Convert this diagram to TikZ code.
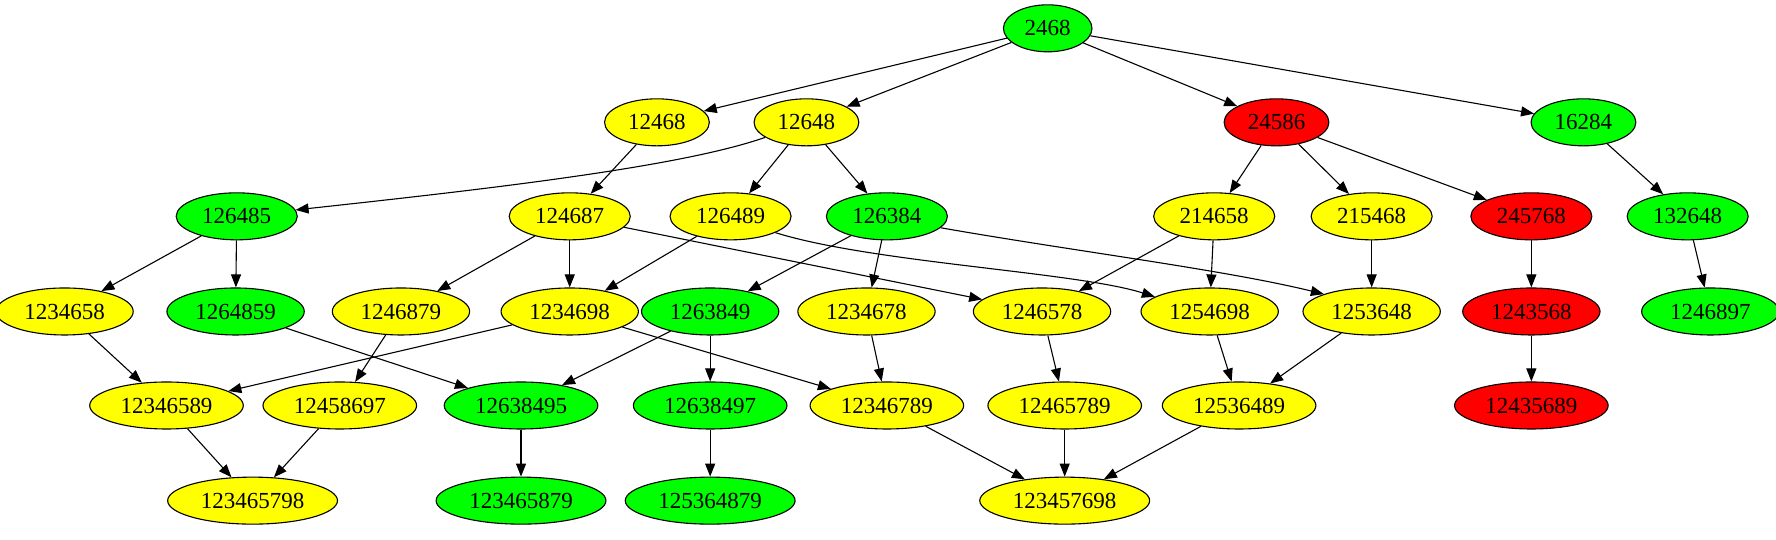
\documentclass[tikz,border=0pt]{standalone}
\usepackage{fontspec}
\setmainfont{Liberation Serif}
\usetikzlibrary{shapes.geometric,arrows.meta}
\definecolor{gvgreen}{HTML}{00FF00}
\definecolor{gvyellow}{HTML}{FFFF00}
\definecolor{gvred}{HTML}{FF0000}
\tikzset{
  nd/.style={ellipse,draw,line width=1.1pt,minimum height=47pt,inner xsep=8.3pt,inner ysep=0pt,font=\fontsize{23}{27}\selectfont},
  gn/.style={nd,fill=gvgreen},
  yn/.style={nd,fill=gvyellow},
  rn/.style={nd,fill=gvred},
  ed/.style={line width=1.1pt,-{Triangle[length=13pt,width=10pt]}}
}
\begin{document}
\begin{tikzpicture}[x=1.1327pt,y=-1.1327pt]
\useasboundingbox (0,0) rectangle (1568,476);
\node[gn] (n2468) at (925,25) {2468};
\node[yn] (n12468) at (580,108) {12468};
\node[yn] (n12648) at (712,108) {12648};
\node[rn] (n24586) at (1127,108) {24586};
\node[gn] (n16284) at (1398,108) {16284};
\node[gn] (n126485) at (209,191) {126485};
\node[yn] (n124687) at (503,191) {124687};
\node[yn] (n126489) at (645,191) {126489};
\node[gn] (n126384) at (783,191) {126384};
\node[yn] (n214658) at (1072,191) {214658};
\node[yn] (n215468) at (1211,191) {215468};
\node[rn] (n245768) at (1352,191) {245768};
\node[gn] (n132648) at (1490,191) {132648};
\node[yn] (n1234658) at (57,275) {1234658};
\node[gn] (n1264859) at (208,275) {1264859};
\node[yn] (n1246879) at (354,275) {1246879};
\node[yn] (n1234698) at (503,275) {1234698};
\node[gn] (n1263849) at (627,275) {1263849};
\node[yn] (n1234678) at (765,275) {1234678};
\node[yn] (n1246578) at (920,275) {1246578};
\node[yn] (n1254698) at (1068,275) {1254698};
\node[yn] (n1253648) at (1211,275) {1253648};
\node[rn] (n1243568) at (1352,275) {1243568};
\node[gn] (n1246897) at (1510,275) {1246897};
\node[yn] (n12346589) at (147,358) {12346589};
\node[yn] (n12458697) at (300,358) {12458697};
\node[gn] (n12638495) at (460,358) {12638495};
\node[gn] (n12638497) at (627,358) {12638497};
\node[yn] (n12346789) at (783,358) {12346789};
\node[yn] (n12465789) at (940,358) {12465789};
\node[yn] (n12536489) at (1094,358) {12536489};
\node[rn] (n12435689) at (1352,358) {12435689};
\node[yn] (n123465798) at (223,442) {123465798};
\node[gn] (n123465879) at (460,442) {123465879};
\node[gn] (n125364879) at (627,442) {125364879};
\node[yn] (n123457698) at (940,442) {123457698};
\foreach \a/\b in {2468/12468,2468/12648,2468/24586,2468/16284,
  12468/124687,12648/126489,12648/126384,
  24586/214658,24586/215468,24586/245768,16284/132648,
  126485/1234658,126485/1264859,124687/1246879,124687/1234698,124687/1246578,
  126489/1234698,126384/1263849,126384/1234678,
  214658/1246578,214658/1254698,215468/1253648,245768/1243568,132648/1246897,
  1234658/12346589,1264859/12638495,1246879/12458697,1234698/12346589,1234698/12346789,
  1263849/12638495,1263849/12638497,1234678/12346789,1246578/12465789,
  1254698/12536489,1253648/12536489,1243568/12435689,
  12346589/123465798,12458697/123465798,12638495/123465879,12638497/125364879,
  12346789/123457698,12465789/123457698,12536489/123457698}
  \draw[ed] (n\a) -- (n\b);
\draw[ed] (n12648.200) .. controls (600,148) and (420,168) .. (n126485);
\draw[ed] (n126489.-20) .. controls (770,232) and (950,240) .. (n1254698.165);
\draw[ed] (n126384.-12) .. controls (950,222) and (1080,238) .. (n1253648.160);
\end{tikzpicture}
\end{document}
